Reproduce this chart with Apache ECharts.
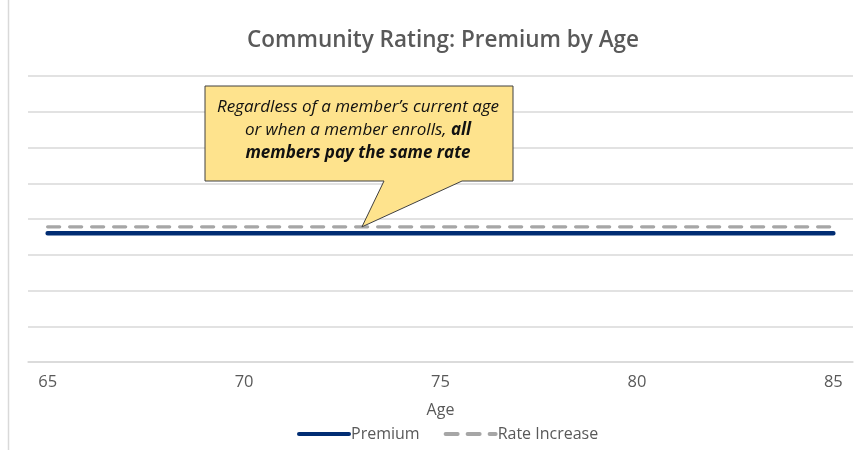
<!DOCTYPE html>
<html>
<head>
<meta charset="utf-8">
<script src="https://cdn.jsdelivr.net/npm/echarts@6/dist/echarts.min.js"></script>
<style>
html,body{margin:0;padding:0;background:#fff;}
#chart{width:859px;height:455px;}
</style>
</head>
<body>
<div id="chart"></div>
<script>
var ages = ['65','66','67','68','69','70','71','72','73','74','75','76','77','78','79','80','81','82','83','84','85'];
var premium = [180,180,180,180,180,180,180,180,180,180,180,180,180,180,180,180,180,180,180,180,180];
var rateIncrease = [189,189,189,189,189,189,189,189,189,189,189,189,189,189,189,189,189,189,189,189,189];
var calloutAge = '73';

var FONT = '"Open Sans", "Noto Sans", sans-serif';
var chart = echarts.init(document.getElementById('chart'));
var option = {
  backgroundColor: '#ffffff',
  animation: false,
  title: {
    text: 'Community Rating: Premium by Age',
    left: 242,
    top: 24,
    textStyle: {fontFamily: FONT, fontSize: 22.5, fontWeight: 600, color: '#595959'}
  },
  legend: {
    bottom: 8,
    left: 292,
    itemWidth: 50,
    itemHeight: 14,
    itemGap: 24,
    itemStyle: {opacity: 0},
    lineStyle: {width: 4},
    textStyle: {fontFamily: FONT, fontSize: 16, color: '#595959', padding: [0,0,0,-3]},
    data: ['Premium', 'Rate Increase']
  },
  grid: {left: 28, right: 6, top: 76, bottom: 93, containLabel: false},
  xAxis: {
    type: 'category',
    data: ages,
    boundaryGap: true,
    name: 'Age',
    nameLocation: 'middle',
    nameGap: 40,
    nameTextStyle: {fontFamily: FONT, fontSize: 16, color: '#595959'},
    axisLine: {show: true, lineStyle: {color: '#d9d9d9', width: 1.5}},
    axisTick: {show: false},
    axisLabel: {interval: 4, margin: 12, fontFamily: FONT, fontSize: 16.5, color: '#595959'}
  },
  yAxis: {
    type: 'value',
    min: 0, max: 400, interval: 50,
    axisLine: {show: false},
    axisTick: {show: false},
    axisLabel: {show: false},
    splitLine: {lineStyle: {color: '#d9d9d9', width: 1.5}}
  },
  series: [
    {
      name: 'Premium', type: 'line', data: premium, symbol: 'none',
      lineStyle: {color: '#012d73', width: 4.5, cap: 'round'},
      itemStyle: {color: '#012d73'}, z: 3
    },
    {
      name: 'Rate Increase', type: 'line', data: rateIncrease, symbol: 'none',
      lineStyle: {color: '#a6a6a6', width: 3.3, type: [12, 10], cap: 'round'},
      itemStyle: {color: '#a6a6a6'}, z: 2
    }
  ]
};
chart.setOption(option);

var tip = chart.convertToPixel({gridIndex: 0}, [calloutAge, rateIncrease[ages.indexOf(calloutAge)]]);
var bx0 = 205, bx1 = 513, by0 = 86, by1 = 181, pb0 = 384, pb1 = 462;
chart.setOption({
  graphic: [
    {
      type: 'line', silent: true,
      shape: {x1: 8.5, y1: 0, x2: 8.5, y2: 450},
      style: {stroke: '#d9d9d9', lineWidth: 1.5}
    },
    {
      type: 'polygon', silent: true, z: 100,
      shape: {points: [[bx0,by0],[bx1,by0],[bx1,by1],[pb1,by1],[tip[0],tip[1]],[pb0,by1],[bx0,by1]]},
      style: {fill: '#fee38d', stroke: '#404040', lineWidth: 1}
    },
    {
      type: 'text', silent: true, z: 101,
      x: 358, y: 96,
      style: {
        text: '{i|Regardless of a member\u2019s current age}\n{i|or when a member enrolls, }{b|all}\n{b|members pay the same rate}',
        align: 'center', verticalAlign: 'top',
        rich: {
          i: {fontFamily: FONT, fontStyle: 'italic', fontSize: 17, lineHeight: 23, fill: '#111111', color: '#111111'},
          b: {fontFamily: FONT, fontStyle: 'italic', fontWeight: 'bold', fontSize: 17, lineHeight: 23, fill: '#111111', color: '#111111'}
        }
      }
    }
  ]
});
</script>
</body>
</html>
